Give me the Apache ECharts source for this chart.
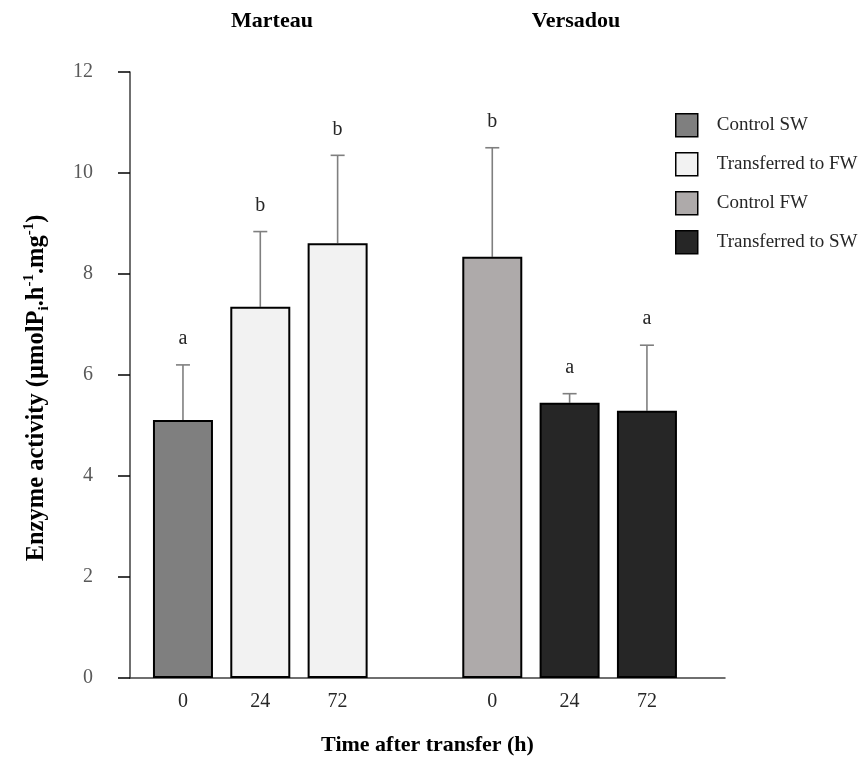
<!DOCTYPE html>
<html><head><meta charset="utf-8">
<script src="https://cdn.jsdelivr.net/npm/echarts@6/dist/echarts.min.js"></script>
<style>html,body{margin:0;padding:0;background:#fff}#c{width:861px;height:761px}</style>
</head><body><div id="c"></div>
<script>
// ---- data ----
const timeLabels   = ['0', '24', '72', '', '0', '24', '72'];
const treatment    = ['Control SW', 'Transferred to FW', 'Transferred to FW', null, 'Control FW', 'Transferred to SW', 'Transferred to SW'];
const meanActivity = [5.11, 7.35, 8.61, null, 8.34, 5.45, 5.29];
const errorUp      = [1.09, 1.49, 1.74, null, 2.16, 0.18, 1.30];
const letters      = ['a', 'b', 'b', '', 'b', 'a', 'a'];
const legendNames  = ['Control SW', 'Transferred to FW', 'Control FW', 'Transferred to SW'];
const groupTitles  = ['Marteau', 'Versadou'];
const yMin = 0, yMax = 12, yStep = 2;

// ---- styles ----
const SERIF = '"Liberation Serif", "Times New Roman", serif';
const fills = {
  'Control SW': '#7f7f7f',
  'Transferred to FW': '#f2f2f2',
  'Control FW': '#aeaaaa',
  'Transferred to SW': '#262626'
};

const barSeries = legendNames.map(name => ({
  name: name,
  type: 'bar',
  xAxisIndex: 1, yAxisIndex: 1,
  barWidth: 60,
  barGap: '-100%',
  itemStyle: { color: fills[name], borderColor: '#000', borderWidth: 2 },
  data: meanActivity.map((v, i) => (treatment[i] === name ? v : '-')),
  z: 3
}));

const errData = [];
meanActivity.forEach((v, i) => { if (v != null) errData.push([i, v, errorUp[i]]); });

const errSeries = {
  type: 'custom',
  xAxisIndex: 1, yAxisIndex: 1,
  data: errData,
  z: 2,
  renderItem: function (params, api) {
    const i = api.value(0), v = api.value(1), e = api.value(2);
    const p0 = api.coord([i, v]);
    const p1 = api.coord([i, v + e]);
    const hw = 7;
    const st = { stroke: '#7f7f7f', lineWidth: 1.6 };
    return {
      type: 'group',
      children: [
        { type: 'line', shape: { x1: p0[0], y1: p0[1], x2: p1[0], y2: p1[1] }, style: st },
        { type: 'line', shape: { x1: p1[0] - hw, y1: p1[1], x2: p1[0] + hw, y2: p1[1] }, style: st },
        { type: 'text', x: p1[0], y: p1[1] - 16,
          style: { text: letters[i], font: '20px ' + SERIF, fill: '#262626', align: 'center', verticalAlign: 'bottom' } }
      ]
    };
  }
};

const chart = echarts.init(document.getElementById('c'), null, { renderer: 'canvas' });
chart.setOption({
  backgroundColor: '#fff',
  animation: false,
  grid: [
    { left: 130, top: 72, width: 595, height: 606 },
    { left: 144.3, top: 72, width: 541.3, height: 606 }
  ],
  xAxis: [
    { gridIndex: 0, type: 'value', min: 0, max: 1,
      axisLine: { show: true, lineStyle: { color: '#404040', width: 1.5 } },
      axisTick: { show: false }, axisLabel: { show: false }, splitLine: { show: false },
      name: 'Time after transfer (h)', nameLocation: 'middle', nameGap: 56,
      nameTextStyle: { fontFamily: SERIF, fontWeight: 'bold', fontSize: 22, color: '#000' } },
    { gridIndex: 1, type: 'category', data: timeLabels,
      axisLine: { show: false }, axisTick: { show: false },
      axisLabel: { fontFamily: SERIF, fontSize: 20, color: '#262626', margin: 14, interval: 0 } }
  ],
  yAxis: [
    { gridIndex: 0, type: 'value', min: yMin, max: yMax, interval: yStep,
      axisLine: { show: true, lineStyle: { color: '#404040', width: 1.5 } },
      axisTick: { show: true, length: 12, lineStyle: { color: '#000', width: 1.5 } },
      axisLabel: { fontFamily: SERIF, fontSize: 20, color: '#595959', margin: 37 },
      splitLine: { show: false } },
    { gridIndex: 1, type: 'value', min: yMin, max: yMax, show: false, splitLine: { show: false } }
  ],
  legend: {
    orient: 'vertical', left: 675, top: 113, padding: 0,
    itemWidth: 22, itemHeight: 23, itemGap: 14.5,
    icon: 'rect', selectedMode: false,
    data: legendNames,
    itemStyle: { borderColor: '#000', borderWidth: 1.5 },
    textStyle: { fontFamily: SERIF, fontSize: 19, color: '#262626', padding: [0, 0, 0, 14] }
  },
  graphic: [
    { type: 'text', x: 272, y: 21,
      style: { text: groupTitles[0], font: 'bold 22px ' + SERIF, fill: '#000', align: 'center', verticalAlign: 'middle' } },
    { type: 'text', x: 576, y: 21,
      style: { text: groupTitles[1], font: 'bold 22px ' + SERIF, fill: '#000', align: 'center', verticalAlign: 'middle' } },
    { type: 'text', x: 37, y: 388, rotation: Math.PI / 2,
      style: {
        text: '{m|Enzyme activity (µmolP}{sub|i}{m|.h}{sup|-1}{m|.mg}{sup|-1}{m|)}',
        align: 'center', verticalAlign: 'middle', fill: '#000',
        rich: {
          m:   { fontFamily: SERIF, fontWeight: 'bold', fontSize: 24.5, lineHeight: 30, verticalAlign: 'middle', fill: '#000' },
          sub: { fontFamily: SERIF, fontWeight: 'bold', fontSize: 15, lineHeight: 15, verticalAlign: 'bottom', fill: '#000' },
          sup: { fontFamily: SERIF, fontWeight: 'bold', fontSize: 15, lineHeight: 15, verticalAlign: 'top', fill: '#000' }
        }
      } }
  ],
  series: barSeries.concat([errSeries])
});
</script>
</body></html>
